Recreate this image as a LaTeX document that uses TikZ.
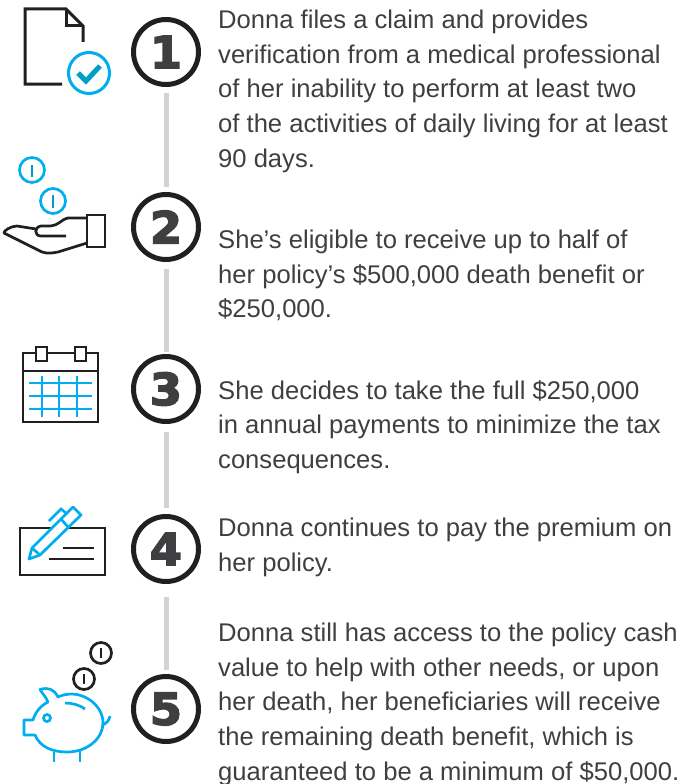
\documentclass[tikz,border=0pt]{standalone}
\usepackage{fontspec}
\setmainfont{Liberation Sans}
\newfontfamily\numfont[BoldFeatures={FakeBold=3.5,FakeStretch=1.05}]{DejaVu Sans}
\usetikzlibrary{positioning}
\definecolor{inkblack}{HTML}{231F20}
\definecolor{inkblue}{HTML}{00AEEF}
\definecolor{inkteal}{HTML}{00A0C6}
\definecolor{inkgray}{HTML}{D1D3D4}
\definecolor{inktext}{HTML}{3F3F41}
\tikzstyle{stepnum} = [circle, draw=inkblack, line width=5pt, minimum size=65pt, inner sep=0pt, text=inktext, font=\numfont\bfseries\fontsize{44}{44}\selectfont]
\tikzstyle{stepline} = [draw=inkgray, line width=5pt]
\tikzstyle{steptext} = [anchor=north west, inner sep=0pt, align=left, text=inktext, font=\fontsize{25.6}{34.6}\selectfont]
\tikzstyle{iconblack} = [draw=inkblack, line width=2.7pt]
\tikzstyle{iconblue} = [draw=inkblue, line width=2.7pt]
\tikzstyle{coinbar} = [draw=inkteal, line width=2.7pt]
\begin{document}
\begin{tikzpicture}[x=1pt, y=-1pt, node distance=175pt]
    \useasboundingbox (0,0) rectangle (700,784);
    \node[stepnum] (step1) at (166,52) {1};
    \node[stepnum, below of=step1] (step2) {2};
    \node[stepnum, below of=step2, node distance=162pt] (step3) {3};
    \node[stepnum, below of=step3, node distance=160pt] (step4) {4};
    \node[stepnum, below of=step4, node distance=160pt] (step5) {5};

    \draw[stepline, shorten <=6pt, shorten >=5pt] (step1) -- (step2);
    \draw[stepline, shorten <=7pt, shorten >=2pt] (step2) -- (step3);
    \draw[stepline, shorten <=8pt, shorten >=6pt] (step3) -- (step4);
    \draw[stepline, shorten <=13pt, shorten >=4pt] (step4) -- (step5);

    \node[steptext] (text1) at (218,10) {Donna files a claim and provides\\verification from a medical professional\\of her inability to perform at least two\\of the activities of daily living for at least\\90 days.};
    \node[steptext] (text2) at (218,230) {She’s eligible to receive up to half of\\her policy’s \$500,000 death benefit or\\\$250,000.};
    \node[steptext] (text3) at (218,380) {She decides to take the full \$250,000\\in annual payments to minimize the tax\\consequences.};
    \node[steptext] (text4) at (218,518) {Donna continues to pay the premium on\\her policy.};
    \node[steptext] (text5) at (218,623) {Donna still has access to the policy cash\\value to help with other needs, or upon\\her death, her beneficiaries will receive\\the remaining death benefit, which is\\guaranteed to be a minimum of \$50,000.};

    % document
    \draw[iconblack, line width=3pt] (62,84) -- (25,84) -- (25,9) -- (66,9) -- (83,26) -- (83,42);
    \draw[iconblack, line width=3pt] (66,9) -- (66,26) -- (83,26);
    \draw[iconblue, line width=3pt] (89,73) circle (20.5);
    \draw[draw=inkteal, line width=5pt] (78,73) -- (86,81) -- (100,66);

    % hand
    \draw[iconblue] (32,170) circle (12.5);
    \draw[coinbar] (32,165) -- (32,177);
    \draw[iconblue] (53,201) circle (12.5);
    \draw[coinbar] (53,195) -- (53,208);
    \draw[iconblack] (87,215) rectangle (105,247);
    \draw[iconblack, line join=round] (87,218) -- (68,218) .. controls (60,220) and (60,225) .. (50,226) -- (41,226) .. controls (34,227) and (34,236) .. (41,236) -- (66,236);
    \draw[iconblack, line join=round] (36,229) -- (17,226) .. controls (11,226) and (3,231) .. (4,233) -- (42,252) .. controls (48,254) and (52,253) .. (58,252) -- (87,243);

    % calendar
    \draw[iconblack] (23,353) rectangle (98,422);
    \draw[iconblack] (23,371) -- (98,371);
    \draw[iconblack, fill=white] (36,347) rectangle (47,361);
    \draw[iconblack, fill=white] (75,347) rectangle (86,361);
    \foreach \gy in {383,396,409}
        \draw[iconblue, line width=2.3pt] (29,\gy) -- (92,\gy);
    \foreach \gx in {42,59,77}
        \draw[iconblue, line width=2.3pt] (\gx,376) -- (\gx,417);

    % cheque
    \draw[iconblack] (20,528) rectangle (105,575);
    \draw[iconblack] (63,548) -- (94,548);
    \draw[iconblack] (49,559) -- (94,559);
    \draw[iconblue, fill=white, line join=round] (29,559) -- (32,548) -- (73,507) -- (81,515) -- (40,555) -- cycle;
    \draw[iconblue] (32,548) -- (40,555);
    \draw[iconblue] (61,519) -- (68,527);
    \draw[iconblue] (49,521) -- (61,509) -- (66,513);

    % piggy bank
    \draw[iconblack] (84,679) circle (10.5);
    \draw[iconblack] (84,674) -- (84,684);
    \draw[iconblack] (101,653) circle (10.5);
    \draw[iconblack] (101,648) -- (101,658);
    \draw[iconblue, line join=round] (58,697) .. controls (54,689) and (48,687) .. (40,689.5) .. controls (42,693) and (46,697) .. (48,702) .. controls (40,706) and (35,713) .. (33,720) -- (24,720) -- (24,735) -- (35,735) .. controls (40,747) and (52,752) .. (67,752) .. controls (88,752) and (103,738) .. (103,723) .. controls (103,706) and (86,694) .. (72,694) .. controls (67,694) and (62,695) .. (58,697) -- cycle;
    \draw[iconblue] (47,718) circle (3.5);
    \draw[iconblue] (65,703) .. controls (72,703) and (80,705) .. (85,709);
    \draw[iconblue] (54,752) -- (54,762);
    \draw[iconblue] (80,751) -- (80,762);
    \draw[iconblue] (102,725) .. controls (106,724) and (109,721) .. (110,716);
\end{tikzpicture}
\end{document}
